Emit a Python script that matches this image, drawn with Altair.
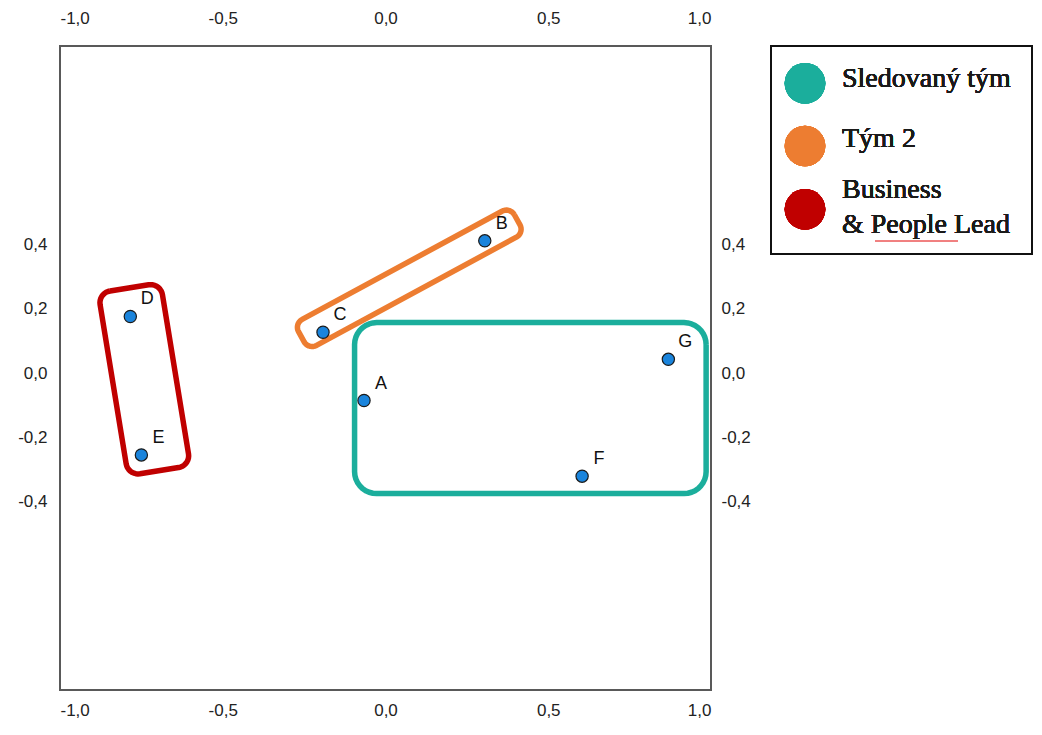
import altair as alt
import numpy as np
import pandas as pd

# ---- data -----------------------------------------------------------
names = ["A", "B", "C", "D", "E", "F", "G"]
xs = [-0.066, 0.305, -0.192, -0.784, -0.750, 0.604, 0.869]
ys = [-0.101, 0.395, 0.111, 0.160, -0.270, -0.336, 0.027]

x_ticks = [-1.0, -0.5, 0.0, 0.5, 1.0]
y_ticks = [-0.4, -0.2, 0.0, 0.2, 0.4]

groups = ["Sledovaný tým", "Tým 2", "Business & People Lead"]
group_colors = ["#1BAE9C", "#ED7D31", "#C00000"]
legend_lines = [["Sledovaný tým"], ["Tým 2"], ["Business", "& People Lead"]]

# group outlines (data units): centre x, centre y, length, width, angle (deg), corner radius
shape_cx = [0.445, 0.073, -0.741]
shape_cy = [-0.1245, 0.2785, -0.035]
shape_len = [1.080, 0.756, 0.575]
shape_wid = [0.531, 0.092, 0.194]
shape_ang = [0.0, 28.7, 99.2]
shape_rad = [0.068, 0.028, 0.037]

# ---- build outline paths -------------------------------------------
rows = []
for g, cx, cy, L, W, a, r in zip(groups, shape_cx, shape_cy, shape_len, shape_wid, shape_ang, shape_rad):
    hx, hy = L / 2 - r, W / 2 - r
    pts = []
    for (sx, sy, a0) in [(1, 1, 0), (-1, 1, 90), (-1, -1, 180), (1, -1, 270)]:
        for t in np.linspace(a0, a0 + 90, 10):
            tr = np.radians(t)
            pts.append((sx * hx + r * np.cos(tr), sy * hy + r * np.sin(tr)))
    pts.append(pts[0])
    ar = np.radians(a)
    for i, (px, py) in enumerate(pts):
        rows.append({
            "group": g, "order": i,
            "x": cx + px * np.cos(ar) - py * np.sin(ar),
            "y": cy + px * np.sin(ar) + py * np.cos(ar),
        })
shapes = pd.DataFrame(rows)
points = pd.DataFrame({"name": names, "x": xs, "y": ys})

label_expr = "replace(replace(format(datum.value, '.1f'), '.', ','), '\u2212', '-')"
xscale = alt.Scale(domain=[-1, 1], nice=False, zero=False)
yscale = alt.Scale(domain=[-1, 1], nice=False, zero=False)
color_scale = alt.Scale(domain=groups, range=group_colors)

common_axis = dict(labelExpr=label_expr, title=None, grid=False, domain=False, ticks=False,
                   labelFont="Liberation Sans", labelFontSize=17, labelColor="#222222")

shape_layer = alt.Chart(shapes).mark_line(strokeWidth=5.5, strokeJoin="round").encode(
    x=alt.X("x:Q", scale=xscale,
            axis=alt.Axis(orient="top", values=x_ticks, labelPadding=19, **common_axis)),
    y=alt.Y("y:Q", scale=yscale,
            axis=alt.Axis(orient="right", values=y_ticks, labelPadding=10, labelOffset=5,
                          labelAlign="left", **common_axis)),
    color=alt.Color("group:N", scale=color_scale, legend=None),
    detail="group:N",
    order="order:Q",
)

point_layer = alt.Chart(points).mark_point(
    filled=True, size=150, fill="#1A84DC", stroke="#1a1a1a", strokeWidth=1.2, opacity=1
).encode(
    x=alt.X("x:Q", scale=xscale,
            axis=alt.Axis(orient="bottom", values=x_ticks, labelPadding=12, **common_axis)),
    y=alt.Y("y:Q", scale=yscale,
            axis=alt.Axis(orient="left", values=y_ticks, labelPadding=13, labelOffset=5,
                          **common_axis)),
)

text_layer = alt.Chart(points).mark_text(
    dx=17, dy=-17, fontSize=18, font="Liberation Sans", color="#111111"
).encode(
    x=alt.X("x:Q", scale=xscale, axis=None),
    y=alt.Y("y:Q", scale=yscale, axis=None),
    text="name:N",
)

# ---- legend box (pixel layout relative to plot area) ----------------
legend_layers = [
    alt.Chart(points).mark_rect(filled=False, stroke="#111111", strokeWidth=2).encode(
        x=alt.value(711), x2=alt.value(972), y=alt.value(0), y2=alt.value(208)
    )
]
circle_y = [37.3, 100.0, 163.3]
text_y = [40.7, 101.3, 152.3]
for g, col, cyv, ty, lines in zip(groups, group_colors, circle_y, text_y, legend_lines):
    legend_layers.append(
        alt.Chart(points).mark_circle(size=1650, color=col, opacity=1).encode(
            x=alt.value(745), y=alt.value(cyv)
        )
    )
    legend_layers.append(
        alt.Chart(points).mark_text(
            align="left", baseline="alphabetic", font="Liberation Serif", fontSize=28,
            color="#1a1a1a", lineHeight=35
        ).encode(x=alt.value(782), y=alt.value(ty), text=alt.value(lines if len(lines) > 1 else lines[0]))
    )
# spell-check underline under "People"
legend_layers.append(
    alt.Chart(points).mark_rule(color="#F08080", strokeWidth=1).encode(
        x=alt.value(815), x2=alt.value(898), y=alt.value(195)
    )
)

chart = alt.layer(shape_layer, point_layer, text_layer, *legend_layers).resolve_axis(
    x="independent", y="independent"
).properties(
    width=651, height=644,
    autosize=alt.AutoSizeParams(type="none"),
    padding={"left": 52, "top": 38, "right": 323, "bottom": 29},
).configure_view(stroke="#595959", strokeWidth=2)

chart.save("out.html", embed_options={"renderer": "svg", "actions": False})
